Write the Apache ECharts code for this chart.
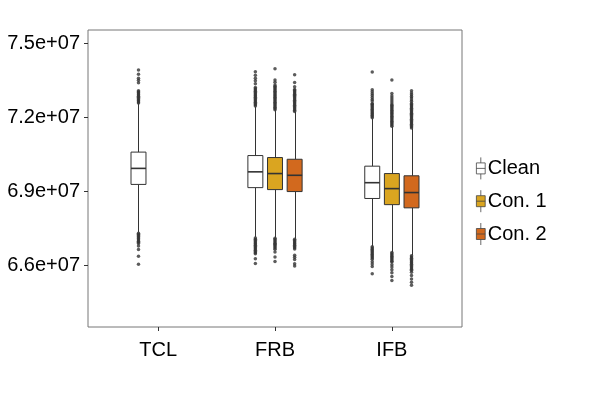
<!DOCTYPE html>
<html>
<head>
<meta charset="utf-8">
<script src="https://cdn.jsdelivr.net/npm/echarts@6/dist/echarts.min.js"></script>
<style>html,body{margin:0;padding:0;background:#fff;}#chart{width:598px;height:398px;}</style>
</head>
<body>
<div id="chart"></div>
<script>
// values in millions
const categories = ['TCL', 'FRB', 'IFB'];
const groups = ['Clean', 'Con. 1', 'Con. 2'];
const yTicks = [66, 69, 72, 75];
const xTicks = [1, 2, 3];

// [lower whisker, Q1, median, Q3, upper whisker] per category (null = absent)
const cleanBox = [[67.34, 69.28, 69.93, 70.59, 72.56], [67.15, 69.15, 69.79, 70.45, 72.43], [66.77, 68.71, 69.35, 70.02, 71.96]];
const con1Box = [null, [67.12, 69.07, 69.72, 70.37, 72.29], [66.54, 68.46, 69.11, 69.72, 71.62]];
const con2Box = [null, [67.08, 68.99, 69.65, 70.30, 72.22], [66.41, 68.33, 68.95, 69.63, 71.55]];

const cleanOutliers = [
  [72.58, 72.62, 72.67, 72.71, 72.76, 72.81, 72.85, 72.90, 72.95, 73.00, 73.04, 73.08, 73.40, 73.50, 73.58, 73.75, 73.92,
   67.30, 67.26, 67.21, 67.17, 67.12, 67.08, 67.03, 66.98, 66.94, 66.89, 66.78, 66.64, 66.37, 66.04],
  [72.46, 72.51, 72.56, 72.61, 72.66, 72.71, 72.76, 72.81, 72.86, 72.91, 72.96, 73.01, 73.06, 73.11, 73.16, 73.21, 73.36, 73.48, 73.58, 73.71, 73.85,
   67.11, 67.06, 67.01, 66.96, 66.91, 66.86, 66.81, 66.76, 66.71, 66.66, 66.61, 66.56, 66.51, 66.47, 66.27, 66.07],
  [71.98, 72.03, 72.08, 72.13, 72.18, 72.23, 72.28, 72.33, 72.38, 72.43, 72.48, 72.53, 72.56, 72.66, 72.72, 72.80, 72.88, 72.96, 73.04, 73.12, 73.84,
   66.75, 66.70, 66.65, 66.60, 66.55, 66.50, 66.45, 66.40, 66.35, 66.30, 66.25, 66.15, 66.05, 65.95, 65.66]
];
const con1Outliers = [
  [],
  [72.31, 72.36, 72.41, 72.46, 72.51, 72.56, 72.61, 72.66, 72.71, 72.76, 72.81, 72.86, 72.91, 72.96, 73.01, 73.06, 73.11, 73.16, 73.21, 73.26, 73.31, 73.42, 73.51, 73.97,
   67.10, 67.05, 67.00, 66.95, 66.90, 66.85, 66.80, 66.75, 66.70, 66.65, 66.54, 66.34, 66.16],
  [71.64, 71.69, 71.74, 71.79, 71.84, 71.89, 71.94, 71.99, 72.04, 72.09, 72.14, 72.19, 72.24, 72.29, 72.34, 72.39, 72.44, 72.49, 72.54, 72.62, 72.70, 72.78, 72.86, 72.97, 73.51,
   66.52, 66.47, 66.42, 66.37, 66.32, 66.27, 66.22, 66.17, 66.13, 66.02, 65.93, 65.82, 65.70, 65.55, 65.39]
];
const con2Outliers = [
  [],
  [72.24, 72.29, 72.34, 72.39, 72.44, 72.49, 72.54, 72.59, 72.64, 72.69, 72.74, 72.79, 72.84, 72.89, 72.94, 72.99, 73.04, 73.09, 73.13, 73.24, 73.41, 73.73,
   67.06, 67.01, 66.96, 66.91, 66.86, 66.81, 66.76, 66.71, 66.66, 66.41, 66.33, 66.24, 66.06, 65.97],
  [71.57, 71.62, 71.67, 71.72, 71.77, 71.82, 71.87, 71.92, 71.97, 72.02, 72.07, 72.12, 72.17, 72.22, 72.27, 72.32, 72.37, 72.42, 72.47, 72.52, 72.56, 72.64, 72.70, 72.78, 72.84, 72.92, 72.99, 73.08,
   66.39, 66.34, 66.29, 66.24, 66.19, 66.14, 66.09, 66.04, 65.99, 65.94, 65.89, 65.84, 65.80, 65.72, 65.59, 65.45, 65.31, 65.19]
];

const colors = ['#ffffff', '#DAA520', '#D2691E'];
const DODGE = 0.168;     // offset between dodged boxes (axis units)
const HALF_W = 0.064;    // half box width (axis units)

const boxSets = [cleanBox, con1Box, con2Box];
const outSets = [cleanOutliers, con1Outliers, con2Outliers];

function renderBox(params, api) {
  const x = api.value(0);
  const color = api.visual('color');
  const pLow = api.coord([x, api.value(1)]);
  const pQ1 = api.coord([x, api.value(2)]);
  const pMed = api.coord([x, api.value(3)]);
  const pQ3 = api.coord([x, api.value(4)]);
  const pHigh = api.coord([x, api.value(5)]);
  const left = api.coord([x - HALF_W, api.value(3)])[0];
  const right = api.coord([x + HALF_W, api.value(3)])[0];
  const cx = Math.round(pMed[0]) + 0.5;
  const stroke = '#333333';
  return {
    type: 'group',
    children: [
      { type: 'line', shape: { x1: cx, y1: pLow[1], x2: cx, y2: pQ1[1] }, style: { stroke: stroke, lineWidth: 1 } },
      { type: 'line', shape: { x1: cx, y1: pQ3[1], x2: cx, y2: pHigh[1] }, style: { stroke: stroke, lineWidth: 1 } },
      { type: 'rect', shape: { x: left, y: pQ3[1], width: right - left, height: pQ1[1] - pQ3[1] }, style: { fill: color, stroke: stroke, lineWidth: 1 } },
      { type: 'line', shape: { x1: left, y1: pMed[1], x2: right, y2: pMed[1] }, style: { stroke: stroke, lineWidth: 1.6 } }
    ]
  };
}

const series = [];
groups.forEach(function (g, i) {
  const boxData = [];
  const outData = [];
  categories.forEach(function (c, j) {
    const b = boxSets[i][j];
    const xPos = j + 1 + (i - 1) * DODGE;
    if (b) boxData.push([xPos].concat(b));
    outSets[i][j].forEach(function (v) { outData.push([xPos, v]); });
  });
  series.push({
    name: g,
    type: 'custom',
    renderItem: renderBox,
    itemStyle: { color: colors[i] },
    encode: { x: 0, y: [1, 2, 3, 4, 5] },
    data: boxData,
    z: 3
  });
  series.push({
    name: g + ' outliers',
    type: 'scatter',
    symbolSize: 3.5,
    itemStyle: { color: '#333333' },
    data: outData,
    silent: true,
    z: 2
  });
});

const iconPath = 'path://M4,0L4,5M0,5L8,5L8,15L0,15ZM0,10L8,10M4,15L4,20';

const chart = echarts.init(document.getElementById('chart'), null, { renderer: 'canvas' });
chart.setOption({
  animation: false,
  backgroundColor: '#ffffff',
  textStyle: { fontFamily: 'Liberation Sans, Arial, sans-serif' },
  grid: { left: 88, right: 136, top: 30, bottom: 71, show: true, borderColor: '#777777', borderWidth: 1, backgroundColor: 'transparent' },
  legend: {
    orient: 'vertical',
    left: 471,
    top: 152,
    itemWidth: 10,
    itemHeight: 22,
    itemGap: 10,
    textStyle: { fontSize: 20, color: '#000', fontFamily: 'Liberation Sans, Arial, sans-serif', padding: [0, 0, 0, -3] },
    data: groups.map(function (g, i) {
      return { name: g, icon: iconPath, itemStyle: { color: colors[i], borderColor: '#444', borderWidth: 0.8 } };
    })
  },
  xAxis: {
    type: 'value',
    min: 0.4,
    max: 3.6,
    axisLine: { show: false },
    splitLine: { show: false },
    axisTick: { show: true, customValues: xTicks, length: 4, lineStyle: { color: '#333' } },
    axisLabel: {
      customValues: xTicks,
      formatter: function (v) { return categories[Math.round(v) - 1]; },
      fontSize: 20, color: '#000', margin: 13
    }
  },
  yAxis: {
    type: 'value',
    min: 63.5,
    max: 75.54,
    axisLine: { show: false },
    splitLine: { show: false },
    axisTick: { show: true, customValues: yTicks, length: 4, lineStyle: { color: '#333' } },
    axisLabel: {
      customValues: yTicks,
      formatter: function (v) { return (v / 10).toFixed(1) + 'e+07'; },
      fontSize: 20, color: '#000', margin: 8
    }
  },
  series: series
});
</script>
</body>
</html>
